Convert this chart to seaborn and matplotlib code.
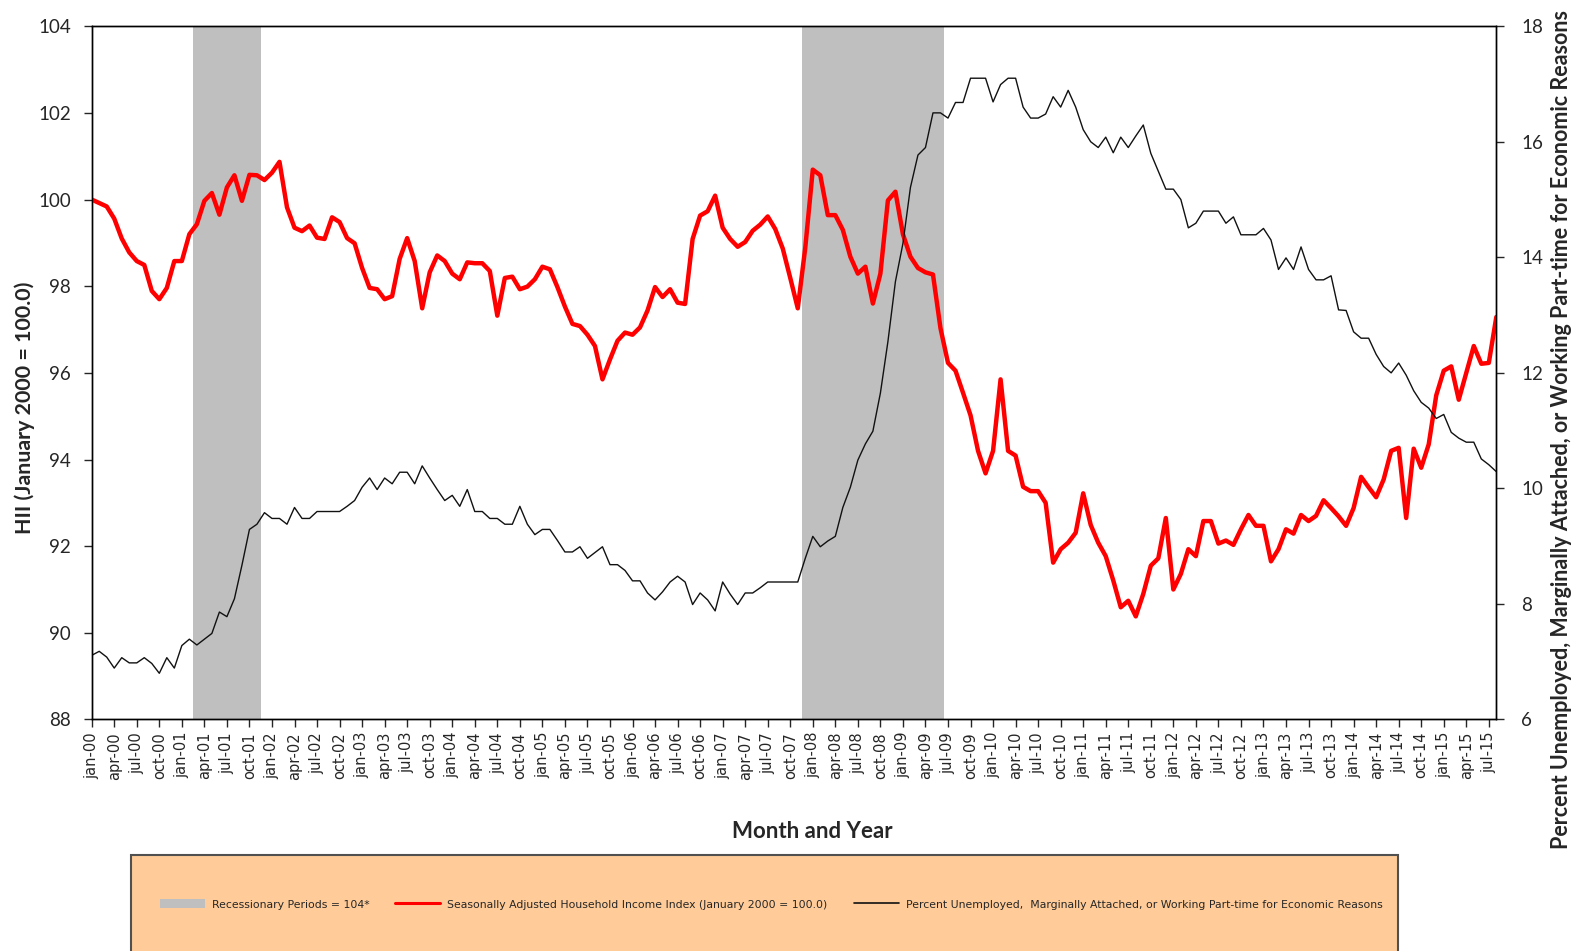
import numpy as np
import pandas as pd
import matplotlib
matplotlib.use('Agg')
import matplotlib.pyplot as plt
import seaborn as sns
from matplotlib.patches import Patch, Rectangle
from matplotlib.lines import Line2D

# monthly data, jan-00 .. aug-15
months = pd.date_range('2000-01-01', '2015-08-01', freq='MS')
month_labels = [m.strftime('%b').lower() + '-' + m.strftime('%y') for m in months]

# Seasonally adjusted Household Income Index (left axis)
hii = [100.0, 99.92, 99.84, 99.56, 99.10, 98.78, 98.58, 98.49, 97.89, 97.70, 97.96, 98.58,
       98.58, 99.20, 99.43, 99.97, 100.15, 99.65, 100.28, 100.56, 99.97, 100.57, 100.56, 100.45,
       100.62, 100.87, 99.82, 99.35, 99.27, 99.40, 99.12, 99.09, 99.59, 99.48, 99.11, 98.99,
       98.42, 97.96, 97.93, 97.70, 97.77, 98.63, 99.11, 98.58, 97.49, 98.32, 98.71, 98.58,
       98.29, 98.16, 98.55, 98.53, 98.53, 98.35, 97.32, 98.19, 98.22, 97.93, 97.99, 98.16,
       98.45, 98.39, 97.98, 97.53, 97.13, 97.08, 96.88, 96.62, 95.85, 96.31, 96.74, 96.93,
       96.88, 97.05, 97.44, 97.98, 97.75, 97.93, 97.62, 97.59, 99.09, 99.63, 99.73, 100.09,
       99.35, 99.09, 98.91, 99.02, 99.28, 99.42, 99.61, 99.32, 98.87, 98.19, 97.49, 98.89,
       100.69, 100.56, 99.64, 99.64, 99.30, 98.68, 98.29, 98.45, 97.60, 98.29, 99.98, 100.18,
       99.20, 98.68, 98.42, 98.32, 98.27, 97.03, 96.23, 96.05, 95.54, 95.02, 94.20, 93.68,
       94.20, 95.85, 94.20, 94.09, 93.37, 93.27, 93.27, 93.00, 91.62, 91.93, 92.08, 92.31,
       93.22, 92.49, 92.08, 91.77, 91.21, 90.59, 90.74, 90.38, 90.90, 91.55, 91.72, 92.65,
       91.00, 91.36, 91.93, 91.77, 92.58, 92.58, 92.06, 92.13, 92.03, 92.39, 92.72, 92.47,
       92.47, 91.65, 91.93, 92.39, 92.29, 92.72, 92.58, 92.70, 93.06, 92.88, 92.69, 92.47,
       92.88, 93.60, 93.36, 93.13, 93.54, 94.20, 94.27, 92.65, 94.25, 93.81, 94.35, 95.48,
       96.05, 96.15, 95.38, 96.00, 96.62, 96.21, 96.23, 97.29]

# Percent unemployed, marginally attached or part-time for economic reasons (right axis)
u6 = [7.11, 7.18, 7.08, 6.89, 7.07, 6.98, 6.98, 7.07, 6.97, 6.80, 7.07, 6.89,
      7.28, 7.39, 7.29, 7.39, 7.49, 7.86, 7.78, 8.09, 8.67, 9.29, 9.38, 9.58,
      9.48, 9.48, 9.38, 9.67, 9.48, 9.48, 9.60, 9.60, 9.60, 9.60, 9.69, 9.79,
      10.02, 10.18, 9.98, 10.18, 10.08, 10.28, 10.28, 10.08, 10.39, 10.18, 9.98, 9.79,
      9.88, 9.69, 9.98, 9.60, 9.60, 9.48, 9.48, 9.38, 9.38, 9.69, 9.38, 9.20,
      9.29, 9.29, 9.10, 8.90, 8.90, 8.99, 8.79, 8.89, 8.99, 8.68, 8.68, 8.58,
      8.40, 8.40, 8.19, 8.07, 8.21, 8.38, 8.48, 8.38, 7.99, 8.19, 8.07, 7.88,
      8.38, 8.17, 7.99, 8.19, 8.19, 8.28, 8.38, 8.38, 8.38, 8.38, 8.38, 8.79,
      9.17, 8.99, 9.09, 9.17, 9.67, 10.02, 10.49, 10.77, 10.99, 11.65, 12.54, 13.58,
      14.24, 15.21, 15.77, 15.90, 16.50, 16.50, 16.41, 16.68, 16.68, 17.10, 17.10, 17.10,
      16.69, 16.99, 17.10, 17.10, 16.60, 16.41, 16.41, 16.48, 16.78, 16.60, 16.89, 16.60,
      16.21, 16.00, 15.90, 16.08, 15.81, 16.08, 15.90, 16.10, 16.29, 15.80, 15.49, 15.18,
      15.18, 15.00, 14.51, 14.59, 14.80, 14.80, 14.80, 14.59, 14.70, 14.39, 14.39, 14.39,
      14.50, 14.30, 13.79, 13.99, 13.79, 14.18, 13.79, 13.61, 13.61, 13.68, 13.09, 13.08,
      12.71, 12.60, 12.60, 12.32, 12.11, 12.00, 12.17, 11.96, 11.69, 11.49, 11.39, 11.21,
      11.28, 10.97, 10.87, 10.80, 10.80, 10.51, 10.41, 10.29]

# recessions (NBER), drawn as bars of height 104
recession_start = ['2001-03-01', '2007-12-01']
recession_end = ['2001-11-01', '2009-06-01']
recession_level = 104

label_every = 3

df = pd.DataFrame({'idx': np.arange(len(months)), 'month': months, 'hii': hii, 'u6': u6})
in_rec = np.zeros(len(df), dtype=bool)
for s, e in zip(recession_start, recession_end):
    in_rec |= (df['month'] >= s).values & (df['month'] <= e).values
rec = df[in_rec]

sns.set_style('white')
plt.rcParams['font.family'] = ['Lato', 'DejaVu Sans']

fig = plt.figure(figsize=(15.8, 9.51), dpi=100)
ax = fig.add_axes([0.05804, 0.24343, 0.8890, 0.7290])

ax.bar(rec['idx'], recession_level, width=1.0, color='#BFBFBF', linewidth=0, zorder=1)
sns.lineplot(data=df, x='idx', y='hii', ax=ax, color='#FF0000', linewidth=3.2, zorder=3)

ax2 = ax.twinx()
sns.lineplot(data=df, x='idx', y='u6', ax=ax2, color='#111111', linewidth=1.0)

ax.set_xlim(0, len(df) - 1)
ax.set_ylim(88, 104)
ax.set_yticks(range(88, 105, 2))
ax2.set_ylim(6, 18)
ax2.set_yticks(range(6, 19, 2))
ax.set_xticks(df['idx'][::label_every])
ax.set_xticklabels(month_labels[::label_every], rotation=90, fontsize=10.5,
                   family='DejaVu Sans', va='top')
for a in (ax, ax2):
    a.set_xlabel('')
    a.set_ylabel('')
    for sp in a.spines.values():
        sp.set_visible(True)
        sp.set_color('black')
        sp.set_linewidth(1.0)

ax.tick_params(axis='x', bottom=True, direction='out', length=6, width=1, pad=3)
ax.tick_params(axis='y', left=True, direction='out', length=6, width=1, labelsize=13.5, pad=9)
ax2.tick_params(axis='y', right=True, direction='out', length=6, width=1, labelsize=13.5, pad=12)

fig.text(0.514, 0.126, 'Month and Year', ha='center', va='center',
         fontsize=16, fontweight='bold')
fig.text(0.0155, 0.571, 'HII (January 2000 = 100.0)', ha='center', va='center',
         rotation=90, fontsize=15.4, fontweight='bold')
fig.text(0.988, 0.548,
         'Percent Unemployed, Marginally Attached, or Working Part-time for Economic Reasons',
         ha='center', va='center', rotation=90, fontsize=15.5, fontweight='bold')

# legend box
fig.patches.append(Rectangle((0.0829, -0.02), 0.8019, 0.121, transform=fig.transFigure,
                             facecolor='#FFCC99', edgecolor='#505050', linewidth=1.5,
                             zorder=0))
handles = [Patch(facecolor='#BFBFBF', edgecolor='none'),
           Line2D([], [], color='#FF0000', linewidth=2.2),
           Line2D([], [], color='#111111', linewidth=1.2)]
labels = ['Recessionary Periods = 104*',
          'Seasonally Adjusted Household Income Index (January 2000 = 100.0)',
          'Percent Unemployed,  Marginally Attached, or Working Part-time for Economic Reasons']
fig.legend(handles, labels, loc='center', bbox_to_anchor=(0.488, 0.049), ncol=3,
           frameon=False, prop={'family': 'DejaVu Sans', 'size': 7.8},
           handlelength=4.15, handletextpad=0.65, columnspacing=2.4, handleheight=0.9)

fig.savefig('out.png', dpi=100)
